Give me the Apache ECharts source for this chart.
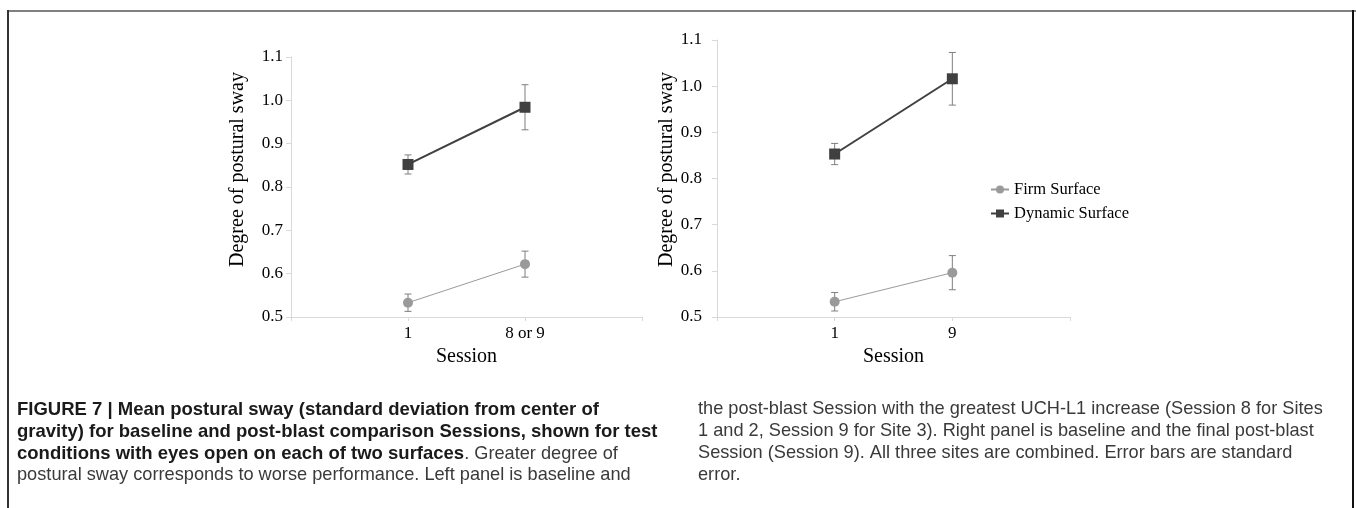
<!DOCTYPE html>
<html>
<head>
<meta charset="utf-8">
<script src="https://cdn.jsdelivr.net/npm/echarts@6/dist/echarts.min.js"></script>
<style>
html,body{margin:0;padding:0;background:#fff;}
#chart{width:1356px;height:508px;}
</style>
</head>
<body>
<div id="chart"></div>
<script>
// ---- data ----
const categoriesLeft = ['', '1', '8 or 9', ''];
const categoriesRight = ['', '1', '9', ''];
const firmLeft = [null, 0.533, 0.622, null];
const firmLeftErr = [null, 0.020, 0.030, null];
const dynamicLeft = [null, 0.852, 0.984, null];
const dynamicLeftErr = [null, 0.022, 0.052, null];
const firmRight = [null, 0.533, 0.596, null];
const firmRightErr = [null, 0.020, 0.037, null];
const dynamicRight = [null, 0.853, 1.016, null];
const dynamicRightErr = [null, 0.023, 0.057, null];
const yMin = 0.5, yMax = 1.1, yStep = 0.1;
const seriesNames = ['Firm Surface', 'Dynamic Surface'];
const yTitle = 'Degree of postural sway';
const xTitle = 'Session';
const captionLeft = [
  [['b', 'FIGURE 7 | Mean postural sway (standard deviation from center of']],
  [['b', 'gravity) for baseline and post-blast comparison Sessions, shown for test']],
  [['b', 'conditions with eyes open on each of two surfaces'], ['r', '. Greater degree of']],
  [['r', 'postural sway corresponds to worse performance. Left panel is baseline and']]
];
const captionRight = [
  [['r', 'the post-blast Session with the greatest UCH-L1 increase (Session 8 for Sites']],
  [['r', '1 and 2, Session 9 for Site 3). Right panel is baseline and the final post-blast']],
  [['r', 'Session (Session 9). All three sites are combined. Error bars are standard']],
  [['r', 'error.']]
];

// ---- styles ----
const SERIF = '"Liberation Serif", "Times New Roman", serif';
const SANS = '"Liberation Sans", Arial, sans-serif';
const firmColor = '#9a9a9a';
const dynColor = '#404040';
const errColor = '#7f7f7f';
const axisColor = '#d9d9d9';

function errData(vals, errs) {
  const out = [];
  vals.forEach((v, i) => { if (v != null) out.push([i, v, errs[i]]); });
  return out;
}
function errSeries(idx, vals, errs, name) {
  return {
    type: 'custom', name: name, xAxisIndex: idx, yAxisIndex: idx, z: 1,
    data: errData(vals, errs), silent: true,
    renderItem: function (params, api) {
      const x = api.value(0), v = api.value(1), e = api.value(2);
      const hi = api.coord([x, v + e]), lo = api.coord([x, v - e]);
      const w = 3.5;
      const st = { stroke: errColor, lineWidth: 1 };
      return { type: 'group', children: [
        { type: 'line', shape: { x1: hi[0], y1: hi[1], x2: lo[0], y2: lo[1] }, style: st },
        { type: 'line', shape: { x1: hi[0] - w, y1: hi[1], x2: hi[0] + w, y2: hi[1] }, style: st },
        { type: 'line', shape: { x1: lo[0] - w, y1: lo[1], x2: lo[0] + w, y2: lo[1] }, style: st }
      ]};
    }
  };
}
function lineSeries(idx, name, vals, dyn) {
  return {
    type: 'line', name: name, xAxisIndex: idx, yAxisIndex: idx, z: 3,
    data: vals, connectNulls: false,
    symbol: dyn ? 'rect' : 'circle', symbolSize: dyn ? 11 : 10,
    itemStyle: { color: dyn ? dynColor : firmColor },
    lineStyle: { color: dyn ? dynColor : firmColor, width: dyn ? 2 : 1 },
    emphasis: { disabled: true }, animation: false
  };
}
function xAxis(idx, cats, gap) {
  return {
    type: 'category', gridIndex: idx, data: cats, boundaryGap: false,
    axisLine: { lineStyle: { color: axisColor, width: 1 } },
    axisTick: { show: true, length: 4, lineStyle: { color: axisColor } },
    axisLabel: { color: '#000', fontFamily: SERIF, fontSize: 17, margin: 8, interval: 0 },
    splitLine: { show: false },
    name: xTitle, nameLocation: 'middle', nameGap: gap,
    nameTextStyle: { color: '#000', fontFamily: SERIF, fontSize: 20 }
  };
}
function yAxis(idx, gap, labelMargin, pad) {
  return {
    type: 'value', gridIndex: idx, min: yMin, max: yMax, interval: yStep,
    axisLine: { show: true, lineStyle: { color: axisColor, width: 1 } },
    axisTick: { show: true, length: 5, lineStyle: { color: axisColor } },
    axisLabel: { color: '#000', fontFamily: SERIF, fontSize: 17, margin: labelMargin,
      formatter: v => v.toFixed(1) },
    splitLine: { show: false },
    name: yTitle, nameLocation: 'middle', nameGap: gap,
    nameTextStyle: { color: '#000', fontFamily: SERIF, fontSize: 20, padding: [0, 0, 0, pad] }
  };
}

function captionGraphics(lines, x, ys) {
  return lines.map((segs, i) => ({
    type: 'text', left: x, top: ys[i] - 10, silent: true,
    style: {
      text: segs.map(s => '{' + s[0] + '|' + s[1] + '}').join(''),
      rich: {
        b: { fontFamily: SANS, fontSize: 18.5, fontWeight: 'bold', fill: '#1a1a1a' },
        r: { fontFamily: SANS, fontSize: 18.2, fill: '#3a3a3a' }
      }
    }
  }));
}
const capY = [410, 432, 454, 476];

const chart = echarts.init(document.getElementById('chart'), null, { renderer: 'canvas' });
chart.setOption({
  animation: false,
  backgroundColor: '#fff',
  grid: [
    { left: 291, top: 57, width: 351, height: 260 },
    { left: 717, top: 40, width: 353, height: 277 }
  ],
  xAxis: [xAxis(0, categoriesLeft, 26), xAxis(1, categoriesRight, 24)],
  yAxis: [yAxis(0, 43, 8, 35), yAxis(1, 40, 15, 18)],
  legend: {
    data: seriesNames, orient: 'vertical', left: 985, top: 176,
    itemWidth: 18, itemHeight: 10, itemGap: 7,
    textStyle: { fontFamily: SERIF, fontSize: 16.5, color: '#000' },
    selectedMode: false
  },
  series: [
    errSeries(0, firmLeft, firmLeftErr, 'errFL'),
    errSeries(0, dynamicLeft, dynamicLeftErr, 'errDL'),
    errSeries(1, firmRight, firmRightErr, 'errFR'),
    errSeries(1, dynamicRight, dynamicRightErr, 'errDR'),
    lineSeries(0, seriesNames[0], firmLeft, false),
    lineSeries(0, seriesNames[1], dynamicLeft, true),
    lineSeries(1, seriesNames[0], firmRight, false),
    lineSeries(1, seriesNames[1], dynamicRight, true)
  ],
  graphic: [
    { type: 'line', silent: true, shape: { x1: 7, y1: 11, x2: 1356, y2: 11 }, style: { stroke: '#808080', lineWidth: 2 } },
    { type: 'line', silent: true, shape: { x1: 8, y1: 10, x2: 8, y2: 508 }, style: { stroke: '#333', lineWidth: 2 } },
    { type: 'line', silent: true, shape: { x1: 1353, y1: 10, x2: 1353, y2: 508 }, style: { stroke: '#111', lineWidth: 2 } }
  ].concat(captionGraphics(captionLeft, 17, capY), captionGraphics(captionRight, 698, capY))
});
</script>
</body>
</html>
